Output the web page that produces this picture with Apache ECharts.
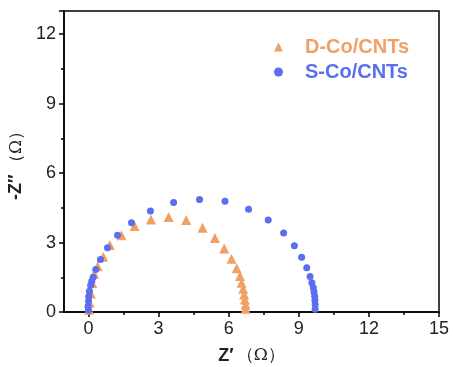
<!DOCTYPE html>
<html><head><meta charset="utf-8">
<script src="https://cdn.jsdelivr.net/npm/echarts@6/dist/echarts.min.js"></script>
<style>html,body{margin:0;padding:0;background:#fff}#c{width:453px;height:367px}</style>
</head><body><div id="c"></div>
<script>
var seriesNames = ['D-Co/CNTs', 'S-Co/CNTs'];
var dCoX = [0.02,0.05,0.1,0.16,0.24,0.39,0.63,0.91,1.41,1.97,2.67,3.43,4.18,4.88,5.41,5.81,6.12,6.34,6.48,6.55,6.62,6.66,6.69,6.72,6.72];
var dCoY = [0.1,0.4,0.8,1.25,1.65,1.98,2.39,2.89,3.31,3.71,4.0,4.1,3.97,3.64,3.2,2.74,2.3,1.89,1.55,1.26,1.0,0.76,0.54,0.32,0.14];
var sCoX = [0.0,-0.02,0.0,0.01,0.04,0.09,0.14,0.2,0.31,0.51,0.81,1.24,1.84,2.65,3.64,4.75,5.84,6.85,7.69,8.35,8.81,9.12,9.34,9.48,9.56,9.62,9.65,9.68,9.69,9.7,9.7];
var sCoY = [0.08,0.25,0.47,0.68,0.9,1.15,1.33,1.5,1.84,2.27,2.77,3.31,3.85,4.36,4.73,4.86,4.78,4.44,3.97,3.41,2.86,2.36,1.91,1.53,1.26,1.05,0.86,0.68,0.51,0.32,0.12];
var xTicks = [0,3,6,9,12,15];
var xMinorTicks = [1.5,4.5,7.5,10.5,13.5];
var yTicks = [0,3,6,9,12];
var colors = ['#F0A064', '#5A6EF0'];

function zip(a,b){return a.map(function(v,i){return [v,b[i]];});}
var chart = echarts.init(document.getElementById('c'));
var font = 'Liberation Sans, Arial, sans-serif';
chart.setOption({
  animation:false,
  grid:{left:64,right:14,top:11,bottom:55,show:true,borderColor:'#000',borderWidth:1.5,outerBoundsMode:'none',containLabel:false},
  legend:{
    orient:'vertical', left:269, top:32, itemWidth:9, itemHeight:9, itemGap:5,
    data:[
      {name:seriesNames[0], icon:'triangle', textStyle:{color:colors[0]}},
      {name:seriesNames[1], icon:'circle', textStyle:{color:colors[1]}}
    ],
    textStyle:{fontSize:20,fontWeight:'bold',fontFamily:font,padding:[0,0,0,17]}
  },
  xAxis:[{
    type:'value', min:-1.05, max:15,
    axisLine:{show:true,onZero:false,lineStyle:{color:'#000',width:1.5}},
    axisTick:{show:true,customValues:xTicks,length:5,lineStyle:{color:'#000',width:1.5}},
    axisLabel:{customValues:xTicks,fontSize:18,color:'#222',fontFamily:font,margin:8},
    splitLine:{show:false},
    name:'{b|Z′} {r|（Ω）}', nameLocation:'middle', nameGap:35,
    nameTextStyle:{rich:{b:{fontSize:18,fontWeight:'bold',fontFamily:font,color:'#222'},r:{fontSize:17,fontFamily:'DejaVu Serif, serif',color:'#222'}}}
  },{
    type:'value', min:-1.05, max:15, position:'bottom',
    axisLine:{show:false,onZero:false},
    axisTick:{show:true,customValues:xMinorTicks,length:3,lineStyle:{color:'#000',width:1.5}},
    axisLabel:{show:false}, splitLine:{show:false}
  }],
  yAxis:{
    type:'value', min:0, max:13, interval:3,
    axisLine:{show:true,onZero:false,lineStyle:{color:'#000',width:1.5}},
    axisTick:{show:true,length:5,lineStyle:{color:'#000',width:1.5}},
    minorTick:{show:true,splitNumber:2,length:3,lineStyle:{color:'#000',width:1.5}},
    axisLabel:{customValues:yTicks,fontSize:18,color:'#222',fontFamily:font,margin:8},
    splitLine:{show:false},
    name:'{b|-Z″} {r|（Ω）}', nameLocation:'middle', nameGap:38,
    nameTextStyle:{rich:{b:{fontSize:18,fontWeight:'bold',fontFamily:font,color:'#222'},r:{fontSize:17,fontFamily:'DejaVu Serif, serif',color:'#222'}}}
  },
  series:[
    {name:seriesNames[0], type:'scatter', symbol:'triangle', symbolSize:10, itemStyle:{color:colors[0],opacity:1}, data:zip(dCoX,dCoY), z:2},
    {name:seriesNames[1], type:'scatter', symbol:'circle', symbolSize:7, itemStyle:{color:colors[1],opacity:1}, data:zip(sCoX,sCoY), z:3}
  ]
});
</script></body></html>
